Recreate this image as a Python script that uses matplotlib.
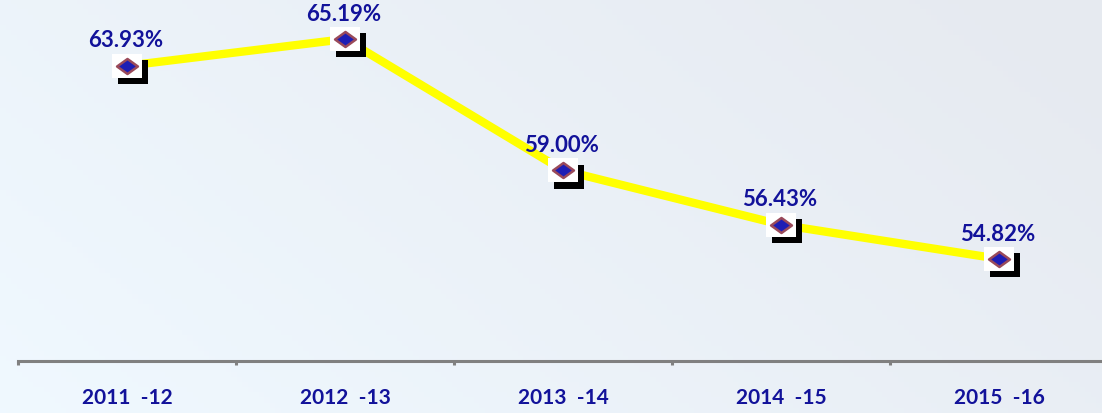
#!/usr/bin/env python3
"""Line chart of yearly percentage with boxed diamond markers."""

import matplotlib

matplotlib.use("Agg")
import matplotlib.pyplot as plt
import matplotlib.transforms as mtransforms
import numpy as np
from matplotlib.path import Path

YEARS = ["2011  -12", "2012  -13", "2013  -14", "2014  -15", "2015  -16"]
VALUES = [63.93, 65.19, 59.00, 56.43, 54.82]
LABELS = ["63.93%", "65.19%", "59.00%", "56.43%", "54.82%"]

TEXT_BLUE = "#12129a"
FONT = ["Lato", "DejaVu Sans"]


def main() -> None:
    W, H, DPI = 1102, 414, 100
    fig = plt.figure(figsize=(W / DPI, H / DPI), dpi=DPI)

    # Soft background gradient: light blue at left/bottom, greyer at top-right.
    bg = fig.add_axes([0, 0, 1, 1], zorder=0)
    xs = np.linspace(0, 1, 200)
    ys = np.linspace(0, 1, 80)
    gx, gy = np.meshgrid(xs, ys)
    t = np.clip(0.75 * gx + 0.35 * gy, 0, 1)
    left = np.array([0.94, 0.975, 1.0])
    right = np.array([0.905, 0.92, 0.945])
    img = left[None, None, :] * (1 - t[..., None]) + right[None, None, :] * t[..., None]
    bg.imshow(img, aspect="auto", origin="lower", extent=[0, 1, 0, 1])
    bg.set_axis_off()

    ax = fig.add_axes([18 / W, 52 / H, 1090 / W, 362 / H], zorder=1)
    ax.patch.set_alpha(0)
    x = np.arange(len(VALUES))
    ax.set_xlim(-0.5, len(VALUES) - 0.5)
    ax.set_ylim(50, 67.08)

    ax.plot(x, VALUES, color="#ffff00", linewidth=6, solid_capstyle="butt", zorder=2)

    # Boxed markers: black shadow, white square, then the diamond.
    box = Path([(-1, -0.85), (1, -0.85), (1, 0.85), (-1, 0.85), (-1, -0.85)],
               [Path.MOVETO, Path.LINETO, Path.LINETO, Path.LINETO, Path.CLOSEPOLY])
    shadow = mtransforms.offset_copy(ax.transData, fig=fig, x=4, y=-4.5, units="points")
    ax.plot(x, VALUES, linestyle="none", marker=box, markersize=21, color="black",
            markeredgewidth=0, transform=shadow, zorder=3)
    ax.plot(x, VALUES, linestyle="none", marker=box, markersize=21, color="white",
            markeredgewidth=0, zorder=4)
    diamond = Path([(-1, 0), (0, 0.72), (1, 0), (0, -0.72), (-1, 0)],
                   [Path.MOVETO, Path.LINETO, Path.LINETO, Path.LINETO, Path.CLOSEPOLY])
    ax.plot(x, VALUES, linestyle="none", marker=diamond, markersize=15,
            markerfacecolor="#1e1eb4", markeredgecolor="#9a4a5a", markeredgewidth=1.8, zorder=5)

    for xi, v, lab in zip(x, VALUES, LABELS):
        ax.annotate(lab, (xi, v), xytext=(-1, 11), textcoords="offset points",
                    ha="center", va="bottom", fontsize=16, fontweight="bold",
                    color=TEXT_BLUE, family=FONT, zorder=6)

    # Axis line with category boundary ticks.
    for side in ["top", "right", "left"]:
        ax.spines[side].set_visible(False)
    ax.spines["bottom"].set_color("#808080")
    ax.spines["bottom"].set_linewidth(2.2)
    ax.set_yticks([])
    ax.set_xticks(np.arange(-0.5, len(VALUES), 1))
    ax.set_xticklabels([])
    ax.tick_params(axis="x", which="major", length=3, width=2.2, color="#808080", direction="out")
    ax.set_xticks(x, minor=True)
    ax.set_xticklabels(YEARS, minor=True, fontsize=15, fontweight="bold",
                       color=TEXT_BLUE, family=FONT)
    ax.tick_params(axis="x", which="minor", length=0, pad=19)

    fig.savefig("out.png", dpi=DPI)


if __name__ == "__main__":
    main()
